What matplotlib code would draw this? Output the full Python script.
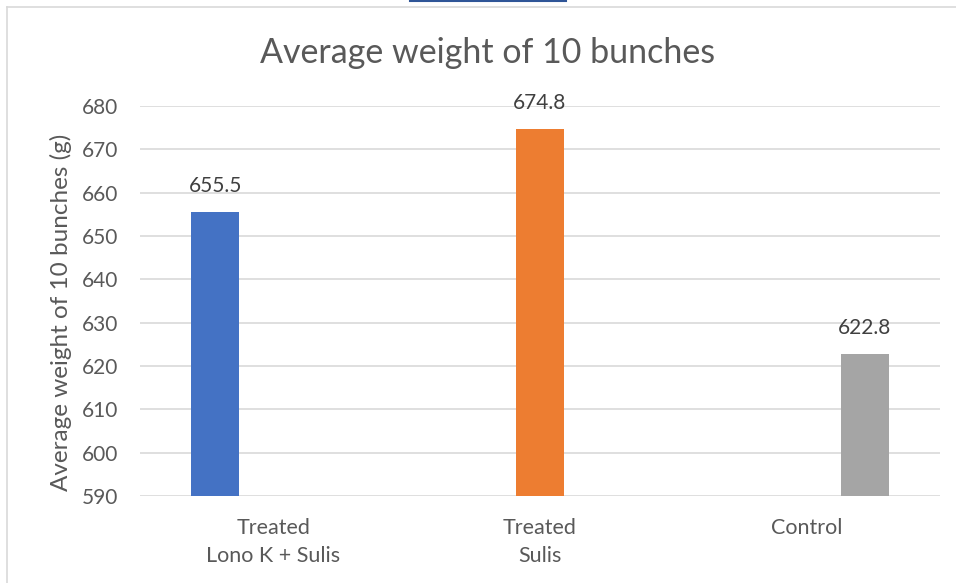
import matplotlib
matplotlib.use("Agg")
import matplotlib.pyplot as plt
from matplotlib.lines import Line2D
import numpy as np

# data
categories = ["Treated\nLono K + Sulis", "Treated\nSulis", "Control"]
series_names = ["Lono K + Sulis", "Sulis", "Control"]
values = [655.5, 674.8, 622.8]
series_colors = ["#4472C4", "#ED7D31", "#A5A5A5"]
y_ticks = [590, 600, 610, 620, 630, 640, 650, 660, 670, 680]

text_color = "#595959"
grid_color = "#D9D9D9"

plt.rcParams["font.family"] = ["Lato", "DejaVu Sans"]

fig = plt.figure(figsize=(9.56, 5.83), dpi=100)
ax = fig.add_axes([140 / 956, 87 / 583, 800 / 956, 390 / 583])

x = np.arange(len(categories))
width = 0.18
offsets = [-0.217, 0.0, 0.217]

# clustered layout: each series sits at its own slot in the group
for i, (name, val, col) in enumerate(zip(series_names, values, series_colors)):
    bx = x[i] + offsets[i]
    ax.bar(bx, val - y_ticks[0], width=width, bottom=y_ticks[0], color=col,
           zorder=3, label=name)
    ax.annotate(f"{val:.1f}", (bx, val), xytext=(0, 18.5),
                textcoords="offset points", ha="center", va="center",
                fontsize=15, color="#404040", zorder=4)

ax.set_xlim(-0.5, len(categories) - 0.5)
ax.set_ylim(y_ticks[0], y_ticks[-1])
ax.set_yticks(y_ticks)
ax.set_xticks(x)
ax.set_xticklabels(categories, fontsize=15.5, color=text_color, linespacing=1.5)
ax.tick_params(axis="y", labelsize=15, labelcolor=text_color, length=0, pad=16)
ax.tick_params(axis="x", length=0, pad=16)
ax.grid(axis="y", color=grid_color, linewidth=1.2, zorder=0)
for s in ax.spines.values():
    s.set_visible(False)
ax.set_ylabel("Average weight of 10 bunches (g)", fontsize=17.5, color=text_color)
ax.yaxis.set_label_coords(-0.085, 0.472)

fig.text(488 / 956, 1 - 53 / 583, "Average weight of 10 bunches", ha="center",
         va="center", fontsize=24.5, color=text_color)

# chart area border and the stray selection line at the top
fig.add_artist(Line2D([7 / 956, 7 / 956], [0, 1 - 7 / 583], color="#D9D9D9",
                      linewidth=1.2, transform=fig.transFigure))
fig.add_artist(Line2D([7 / 956, 1], [1 - 7 / 583, 1 - 7 / 583], color="#D9D9D9",
                      linewidth=1.2, transform=fig.transFigure))
fig.add_artist(Line2D([410 / 956, 566 / 956], [1 - 0.6 / 583, 1 - 0.6 / 583],
                      color="#2F5597", linewidth=1.5, transform=fig.transFigure))

fig.savefig("out.png", dpi=100)
